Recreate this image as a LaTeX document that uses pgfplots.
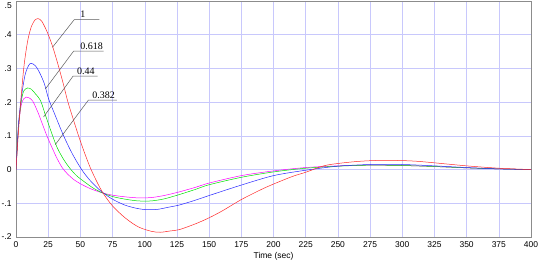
\documentclass[border=0pt]{standalone}
\usepackage{fontspec}
\setmainfont{Liberation Sans}
\newfontfamily\serifann{Liberation Serif}
\usepackage{pgfplots}
\pgfplotsset{compat=1.18}
\definecolor{gridc}{RGB}{200,200,252}
\definecolor{axc}{RGB}{140,140,140}
\definecolor{cred}{RGB}{255,40,40}
\definecolor{cblue}{RGB}{40,40,255}
\definecolor{cgreen}{RGB}{0,225,0}
\definecolor{cmag}{RGB}{255,0,255}
\definecolor{ptr}{RGB}{90,90,90}
\begin{document}
\begin{tikzpicture}
\begin{axis}[
  name=ax,
  scale only axis,
  width=515bp, height=236bp,
  xmin=0, xmax=400, ymin=-0.2, ymax=0.5,
  xtick={0,25,50,75,100,125,150,175,200,225,250,275,300,325,350,375,400},
  xticklabels={0,25,50,75,100,125,150,175,200,225,250,275,300,325,350,375,400},
  ytick={-0.2,-0.1,0,0.1,0.2,0.3,0.4,0.5},
  yticklabels={-.2,-.1,0,.1,.2,.3,.4,{}},
  major tick length=0pt,
  grid=major,
  major grid style={gridc, line width=0.5pt},
  axis line style={axc, line width=0.6pt},
  tick label style={font=\fontsize{8.5}{9}\selectfont, text=black},
  xticklabel style={yshift=-1bp},
  yticklabel style={xshift=-1bp},
  xlabel={Time (sec)},
  xlabel style={font=\fontsize{8.5}{9}\selectfont, yshift=1.5bp},
  every axis plot/.append style={line width=0.5pt, smooth, tension=0.5},
]
\addplot[cmag] coordinates {(0,0) (1,0.07) (2,0.13) (4,0.19) (6,0.21) (8,0.215) (10,0.213) (13,0.203) (17,0.17) (21,0.13) (24,0.1) (28,0.065) (32,0.032) (36,0.005) (40,-0.013) (45,-0.03) (50,-0.042) (58,-0.057) (67,-0.069) (75,-0.076) (85,-0.081) (95,-0.084) (105,-0.083) (115,-0.077) (127,-0.066) (140,-0.052) (150,-0.04) (175,-0.018) (200,-0.004) (225,0.006) (250,0.011) (275,0.013) (300,0.012) (325,0.009) (350,0.005) (375,0.002) (400,0)};
\addplot[cgreen] coordinates {(0,0) (1,0.07) (2,0.13) (4,0.2) (6,0.233) (9,0.242) (12,0.238) (15,0.225) (19,0.205) (23,0.16) (28,0.105) (32,0.065) (37,0.03) (42,0.003) (47,-0.018) (53,-0.036) (60,-0.055) (67,-0.069) (75,-0.08) (85,-0.088) (95,-0.093) (105,-0.093) (115,-0.087) (127,-0.074) (140,-0.058) (150,-0.045) (175,-0.023) (200,-0.007) (225,0.004) (250,0.01) (275,0.013) (300,0.012) (325,0.009) (350,0.005) (375,0.002) (400,0)};
\addplot[cblue] coordinates {(0,0) (1,0.07) (2,0.14) (4,0.21) (7,0.28) (10,0.31) (12,0.315) (15,0.308) (18,0.29) (22,0.255) (25.3,0.21) (30,0.165) (37,0.1) (44,0.045) (51,0.0) (57,-0.03) (62,-0.05) (67,-0.067) (75,-0.088) (85,-0.106) (95,-0.116) (102,-0.119) (110,-0.118) (118,-0.112) (127,-0.105) (140,-0.09) (150,-0.077) (175,-0.046) (200,-0.018) (225,-0.002) (250,0.01) (275,0.015) (300,0.015) (325,0.011) (350,0.006) (375,0.002) (400,0)};
\addplot[cred] coordinates {(0,0) (1,0.06) (3,0.17) (6,0.3) (9,0.38) (12,0.425) (15,0.445) (17,0.448) (20,0.44) (24,0.41) (28,0.37) (32,0.32) (36,0.265) (40,0.205) (44,0.155) (48.6,0.1) (53,0.052) (57,0.012) (61,-0.022) (67,-0.066) (75,-0.108) (85,-0.144) (95,-0.17) (105,-0.183) (112,-0.186) (120,-0.182) (127,-0.178) (140,-0.16) (150,-0.143) (160,-0.123) (175,-0.089) (190,-0.06) (200,-0.043) (215,-0.02) (225,-0.008) (239,0.011) (250,0.018) (265,0.024) (280,0.027) (295,0.027) (310,0.025) (325,0.02) (350,0.011) (375,0.004) (400,0)};
% annotation leaders
\draw[ptr, line width=0.5pt] (axis cs:28.4,0.363) -- (axis cs:45.3,0.445) -- (axis cs:64.7,0.445);
\draw[ptr, line width=0.5pt] (axis cs:22.8,0.239) -- (axis cs:44.7,0.351) -- (axis cs:68.1,0.351);
\draw[ptr, line width=0.5pt] (axis cs:21.4,0.156) -- (axis cs:44.3,0.277) -- (axis cs:63.4,0.277);
\draw[ptr, line width=0.5pt] (axis cs:30.5,0.074) -- (axis cs:56.2,0.206) -- (axis cs:78.4,0.206);
\node[anchor=south, inner sep=1.5bp, font=\serifann\fontsize{10}{10}\selectfont] at (axis cs:52,0.445) {1};
\node[anchor=south, inner sep=1.5bp, font=\serifann\fontsize{10}{10}\selectfont] at (axis cs:58.7,0.351) {0.618};
\node[anchor=south, inner sep=1.5bp, font=\serifann\fontsize{10}{10}\selectfont] at (axis cs:54.2,0.277) {0.44};
\node[anchor=south, inner sep=1.5bp, font=\serifann\fontsize{10}{10}\selectfont] at (axis cs:68,0.206) {0.382};
\end{axis}
\node[anchor=east, inner sep=0pt, font=\fontsize{8.5}{9}\selectfont] at ([shift={(-4bp,-5bp)}]ax.north west) {.5};
\pgfresetboundingbox
\path ([shift={(-16bp,-25bp)}]ax.south west) rectangle ([shift={(9bp,1bp)}]ax.north east);
\end{tikzpicture}
\end{document}
